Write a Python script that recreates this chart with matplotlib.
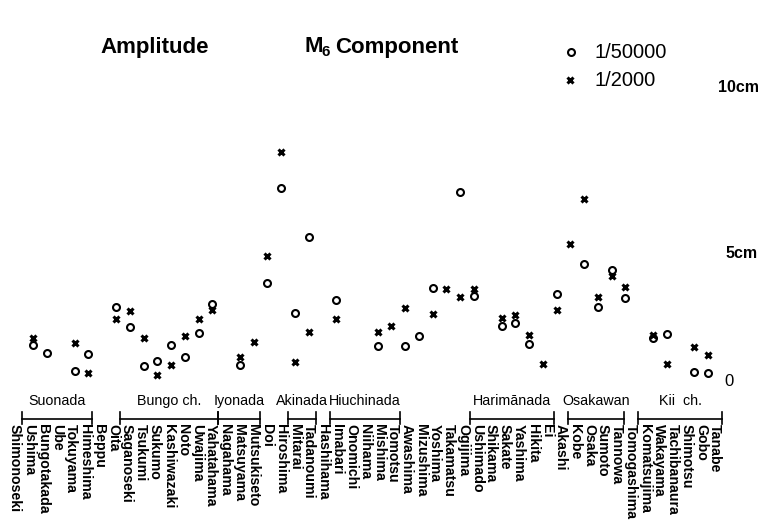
import matplotlib

matplotlib.use("Agg")

import numpy as np
import matplotlib.pyplot as plt
import matplotlib.transforms as mtransforms

nan = np.nan

stations = [
    "Shimonoseki", "Ushima", "Bungotakada", "Ube", "Tokuyama", "Himeshima",
    "Beppu", "Oita", "Saganoseki", "Tsukumi", "Sukumo", "Kashiwazaki", "Noto",
    "Uwajima", "Yahatahama", "Nagahama", "Matsuyama", "Mutsukiseto", "Doi",
    "Hiroshima", "Mitarai", "Tadanoumi", "Hashihama", "Imabari", "Onomichi",
    "Niihama", "Mishima", "Tomotsu", "Awashima", "Mizushima", "Yoshima",
    "Takamatsu", "Ogijima", "Ushimado", "Shikama", "Sakate", "Yashima",
    "Hikita", "Ei", "Akashi", "Kobe", "Osaka", "Sumoto", "Tannowa",
    "Tomogashima", "Komatsujima", "Wakayama", "Tachibanaura", "Shimotsu",
    "Gobo", "Tanabe",
]

# amplitude in cm, model scale 1/50000 (circles)
amp_50000 = [
    nan, 1.41, 1.09, nan, 0.39, 1.05, nan, 2.89, 2.11, 0.59,
    0.78, 1.41, 0.94, 1.88, 3.01, nan, 0.63, nan, 3.83, 7.54,
    2.66, 5.63, nan, 3.16, nan, nan, 1.37, nan, 1.37, 1.76,
    3.63, nan, 7.38, 3.32, nan, 2.15, 2.27, 1.45, nan, 3.40,
    nan, 4.57, 2.89, 4.34, 3.24, nan, 1.68, 1.84, nan, 0.35,
    0.31,
]

# amplitude in cm, model scale 1/2000 (crosses)
amp_2000 = [
    nan, 1.68, nan, nan, 1.48, 0.31, nan, 2.42, 2.73, 1.68,
    0.23, 0.63, 1.76, 2.42, 2.77, nan, 0.94, 1.52, 4.88, 8.95,
    0.74, 1.91, nan, 2.42, nan, nan, 1.91, 2.15, 2.85, nan,
    2.62, 3.59, 3.28, 3.59, nan, 2.46, 2.58, 1.80, 0.66, 2.77,
    5.35, 7.11, 3.28, 4.10, 3.67, nan, 1.80, 0.66, nan, 1.33,
    1.02,
]

regions = ["Suonada", "Bungo ch.", "Iyonada", "Akinada", "Hiuchinada",
           "Harimānada", "Osakawan", "Kii  ch."]
region_first = ["Ushima", "Saganoseki", "Nagahama", "Mitarai", "Imabari",
                "Ushimado", "Kobe", "Komatsujima"]
region_last = ["Himeshima", "Yahatahama", "Mutsukiseto", "Tadanoumi",
               "Tomotsu", "Ei", "Tannowa", "Tanabe"]

W, H = 764, 522
FONT = "Liberation Sans"

circle_style = dict(marker="o", ms=5.0, mfc="white", mec="black", mew=1.5,
                    linestyle="none")
cross_style = dict(marker="x", ms=3.8, color="black", mew=2.2,
                   linestyle="none")


def fy(py):
    return 1 - py / H


def fx(px):
    return px / W


fig = plt.figure(figsize=(W / 100, H / 100), dpi=100)
fig.patch.set_facecolor("white")

# data axes: station index on x, amplitude (cm) on y
ax = fig.add_axes([0, 0, 1, 1])
ax.set_xlim(-19.6 / 13.77, (W - 19.6) / 13.77)
ax.set_ylim(-(H - 381) / 25.6, 381 / 25.6)
ax.axis("off")

x = np.arange(len(stations))
ax.plot(x, amp_50000, **circle_style)
ax.plot(x, amp_2000, **cross_style)

# label axes: station names and region brackets
lab = fig.add_axes([0, 0, 1, 1], frameon=False)
lab.set_xlim(-15 / 14, (W - 15) / 14)
lab.set_ylim(0, 1)
lab.axis("off")
tr = mtransforms.blended_transform_factory(lab.transData, fig.transFigure)

for i, name in enumerate(stations):
    lab.text(i, fy(424), name, rotation=270, ha="center", va="top",
             fontsize=10.2, fontweight="bold", family=FONT, transform=tr)

for name, first, last in zip(regions, region_first, region_last):
    s = stations.index(first) - 0.5
    e = stations.index(last) + 0.5
    lab.plot([s, e], [fy(419), fy(419)], color="black", lw=1.2, transform=tr)
    for xe in (s, e):
        lab.plot([xe, xe], [fy(412), fy(424)], color="black", lw=1.2,
                 transform=tr)
    lab.text((s + e) / 2, fy(401), name, ha="center", va="center",
             fontsize=10.3, family=FONT, transform=tr)

# title
fig.text(fx(100), fy(47), "Amplitude", fontsize=16, fontweight="bold",
         family=FONT, va="center", ha="left")
fig.text(fx(305), fy(47), "M", fontsize=16, fontweight="bold",
         family=FONT, va="center", ha="left")
fig.text(fx(322), fy(52), "6", fontsize=11, fontweight="bold",
         family=FONT, va="center", ha="left")
fig.text(fx(335), fy(47), "Component", fontsize=16, fontweight="bold",
         family=FONT, va="center", ha="left")

# legend
fig.lines.append(plt.Line2D([fx(571)], [fy(52)], transform=fig.transFigure,
                            **circle_style))
fig.lines.append(plt.Line2D([fx(570)], [fy(80)], transform=fig.transFigure,
                            **cross_style))
fig.text(fx(594), fy(52), "1/50000", fontsize=14.5, family=FONT,
         va="center", ha="left")
fig.text(fx(594), fy(80), "1/2000", fontsize=14.5, family=FONT,
         va="center", ha="left")

# scale labels
fig.text(fx(718), fy(87), "10cm", fontsize=11.5, fontweight="bold",
         family=FONT, va="center", ha="left")
fig.text(fx(725), fy(253), "5cm", fontsize=11.5, fontweight="bold",
         family=FONT, va="center", ha="left")
fig.text(fx(729), fy(381), "0", fontsize=12, family=FONT,
         va="center", ha="center")

fig.savefig("out.png", dpi=100, facecolor="white")
